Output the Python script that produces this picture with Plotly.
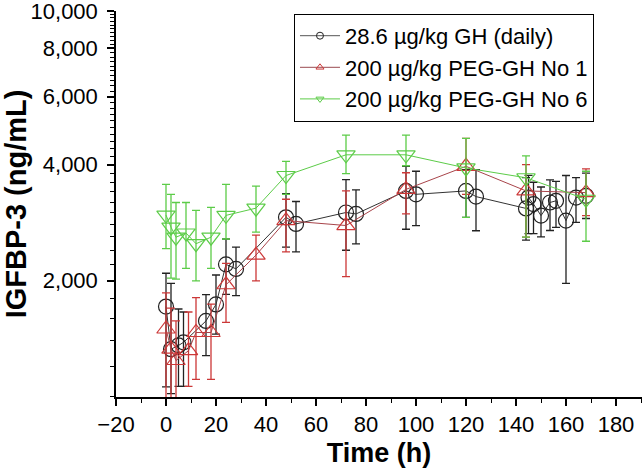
import plotly.graph_objects as go

# ---- data ----
gh_time = [0, 2, 5, 7, 16, 20, 24, 28, 48, 52, 72, 76, 96, 100, 120, 124,
           144, 145, 147, 150, 153.6, 156, 160, 164, 168]
gh_mean = [1715, 1330, 1360, 1385, 1574, 1737, 2206, 2147, 2921, 2808, 3006, 2980,
           3419, 3350, 3419, 3305, 3080, 3286, 3160, 2951, 3191, 3223, 2864, 3286, 3320]
gh_upper = [2092, 1970, 1690, 1660, 1842, 2070, 2566, 2446, 3366, 3210, 3659, 3440,
            3960, 3845, 3880, 3880, 3700, 3750, 3600, 3500, 3650, 3620, 3748, 3700, 3800]
gh_lower = [1062, 1020, 1065, 1065, 1280, 1455, 1845, 1830, 2446, 2376, 2400, 2494,
            2720, 2781, 2921, 2696, 2550, 2650, 2650, 2600, 2700, 2750, 1970, 2835, 2900]

peg1_time = [0, 2, 4, 9, 12, 18, 24, 36, 48, 72, 96, 120, 144, 168]
peg1_mean = [1500, 1330, 1243, 1318, 1469, 1469, 1953, 2331, 2864, 2781, 3451, 3960, 3419, 3384]
peg1_upper = [1860, 1700, 1574, 1660, 1808, 1740, 2220, 2625, 3253, 3419, 3810, 4677, 4000, 3900]
peg1_lower = [950, 950, 950, 1065, 1110, 1110, 1560, 2000, 2376, 2050, 2980, 3350, 2594, 2950]

peg6_time = [0, 2, 4, 8, 12, 18, 24, 36, 48, 72, 96, 120, 144, 168]
peg6_mean = [2960, 2754, 2594, 2660, 2495, 2594, 2955, 3085, 3748, 4241, 4241, 3921, 3698, 3253]
peg6_upper = [3553, 3350, 3191, 3191, 3043, 3098, 3553, 3520, 4079, 4770, 4770, 4677, 4215, 3845]
peg6_lower = [2424, 2032, 2020, 2154, 2000, 2154, 2566, 2673, 3350, 3792, 3973, 2921, 2594, 2532]

names = ["28.6 µg/kg GH (daily)", "200 µg/kg PEG-GH No 1", "200 µg/kg PEG-GH No 6"]

y_ticks = [2000, 4000, 6000, 8000, 10000]
y_ticktext = ["2,000", "4,000", "6,000", "8,000", "10,000"]
y_minor = [v for v in range(1000, 10001, 200) if v not in y_ticks]

BLACK = "#222222"
RED = "#cc3838"
GREEN = "#5ccc48"

fig = go.Figure()

def add_series(t, m, up, lo, color, linecolor, symbol, size, name):
    plus = [u - v for u, v in zip(up, m)]
    minus = [v - l for v, l in zip(m, lo)]
    fig.add_trace(go.Scatter(
        x=t, y=m, mode="lines+markers", name=name, showlegend=False,
        line=dict(color=linecolor, width=1),
        marker=dict(symbol=symbol, size=size, color=color, line=dict(width=1.2, color=color)),
        error_y=dict(type="data", symmetric=False, array=plus, arrayminus=minus,
                     color=color, thickness=1.3, width=4),
        cliponaxis=True,
    ))

add_series(gh_time, gh_mean, gh_upper, gh_lower, BLACK, "#333333", "circle-open", 15, names[0])
add_series(peg1_time, peg1_mean, peg1_upper, peg1_lower, RED, "#a8444a", "triangle-up-open", 16, names[1])
add_series(peg6_time, peg6_mean, peg6_upper, peg6_lower, GREEN, GREEN, "triangle-down-open", 16, names[2])

# legend-only traces with small markers
for name, color, lcolor, sym in [(names[0], BLACK, "#555555", "circle-open"),
                                 (names[1], RED, "#9a4a50", "triangle-up-open"),
                                 (names[2], GREEN, GREEN, "triangle-down-open")]:
    fig.add_trace(go.Scatter(
        x=[None], y=[None], mode="lines+markers", name=name,
        line=dict(color=lcolor, width=1),
        marker=dict(symbol=sym, size=7, color=color, line=dict(width=1, color=color)),
    ))

fig.update_layout(
    width=642, height=468,
    margin=dict(l=116, r=0, t=11, b=71, autoexpand=False),
    paper_bgcolor="white", plot_bgcolor="white",
    font=dict(family="Liberation Sans, Arial, sans-serif", size=22, color="black"),
    showlegend=True,
    legend=dict(
        x=0.338, y=0.993, xanchor="left", yanchor="top",
        bordercolor="black", borderwidth=1.2, bgcolor="white",
        font=dict(size=22), tracegroupgap=0, itemwidth=40,
    ),
)

fig.update_xaxes(
    range=[-20, 190.4], tickmode="linear", tick0=-20, dtick=20,
    automargin=False,
    showline=True, linecolor="black", linewidth=1.5,
    ticks="outside", ticklen=7, tickwidth=1.5, tickcolor="black",
    tickfont=dict(size=22), ticklabeloverflow="allow",
    minor=dict(ticks="outside", ticklen=4, tickwidth=1.2, tickcolor="black", dtick=10, tick0=-20),
    showgrid=False, zeroline=False,
    title=dict(text="<b>Time (h)</b>", font=dict(size=27), standoff=13),
)

fig.update_yaxes(
    type="log", range=[2.9999, 4.0001],
    automargin=False,
    tickmode="array", tickvals=y_ticks, ticktext=y_ticktext,
    showline=True, linecolor="black", linewidth=1.5,
    ticks="outside", ticklen=7, tickwidth=1.5, tickcolor="black",
    tickfont=dict(size=22), ticklabeloverflow="allow", ticklabelstandoff=5,
    minor=dict(ticks="outside", ticklen=4, tickwidth=1, tickcolor="black",
               tickmode="array", tickvals=y_minor),
    showgrid=False, zeroline=False,
    title=dict(text="<b>IGFBP-3 (ng/mL)</b>", font=dict(size=29), standoff=12),
)

fig.write_html("out.html", config={"displayModeBar": False},
               post_script="document.body.style.margin='0';")
